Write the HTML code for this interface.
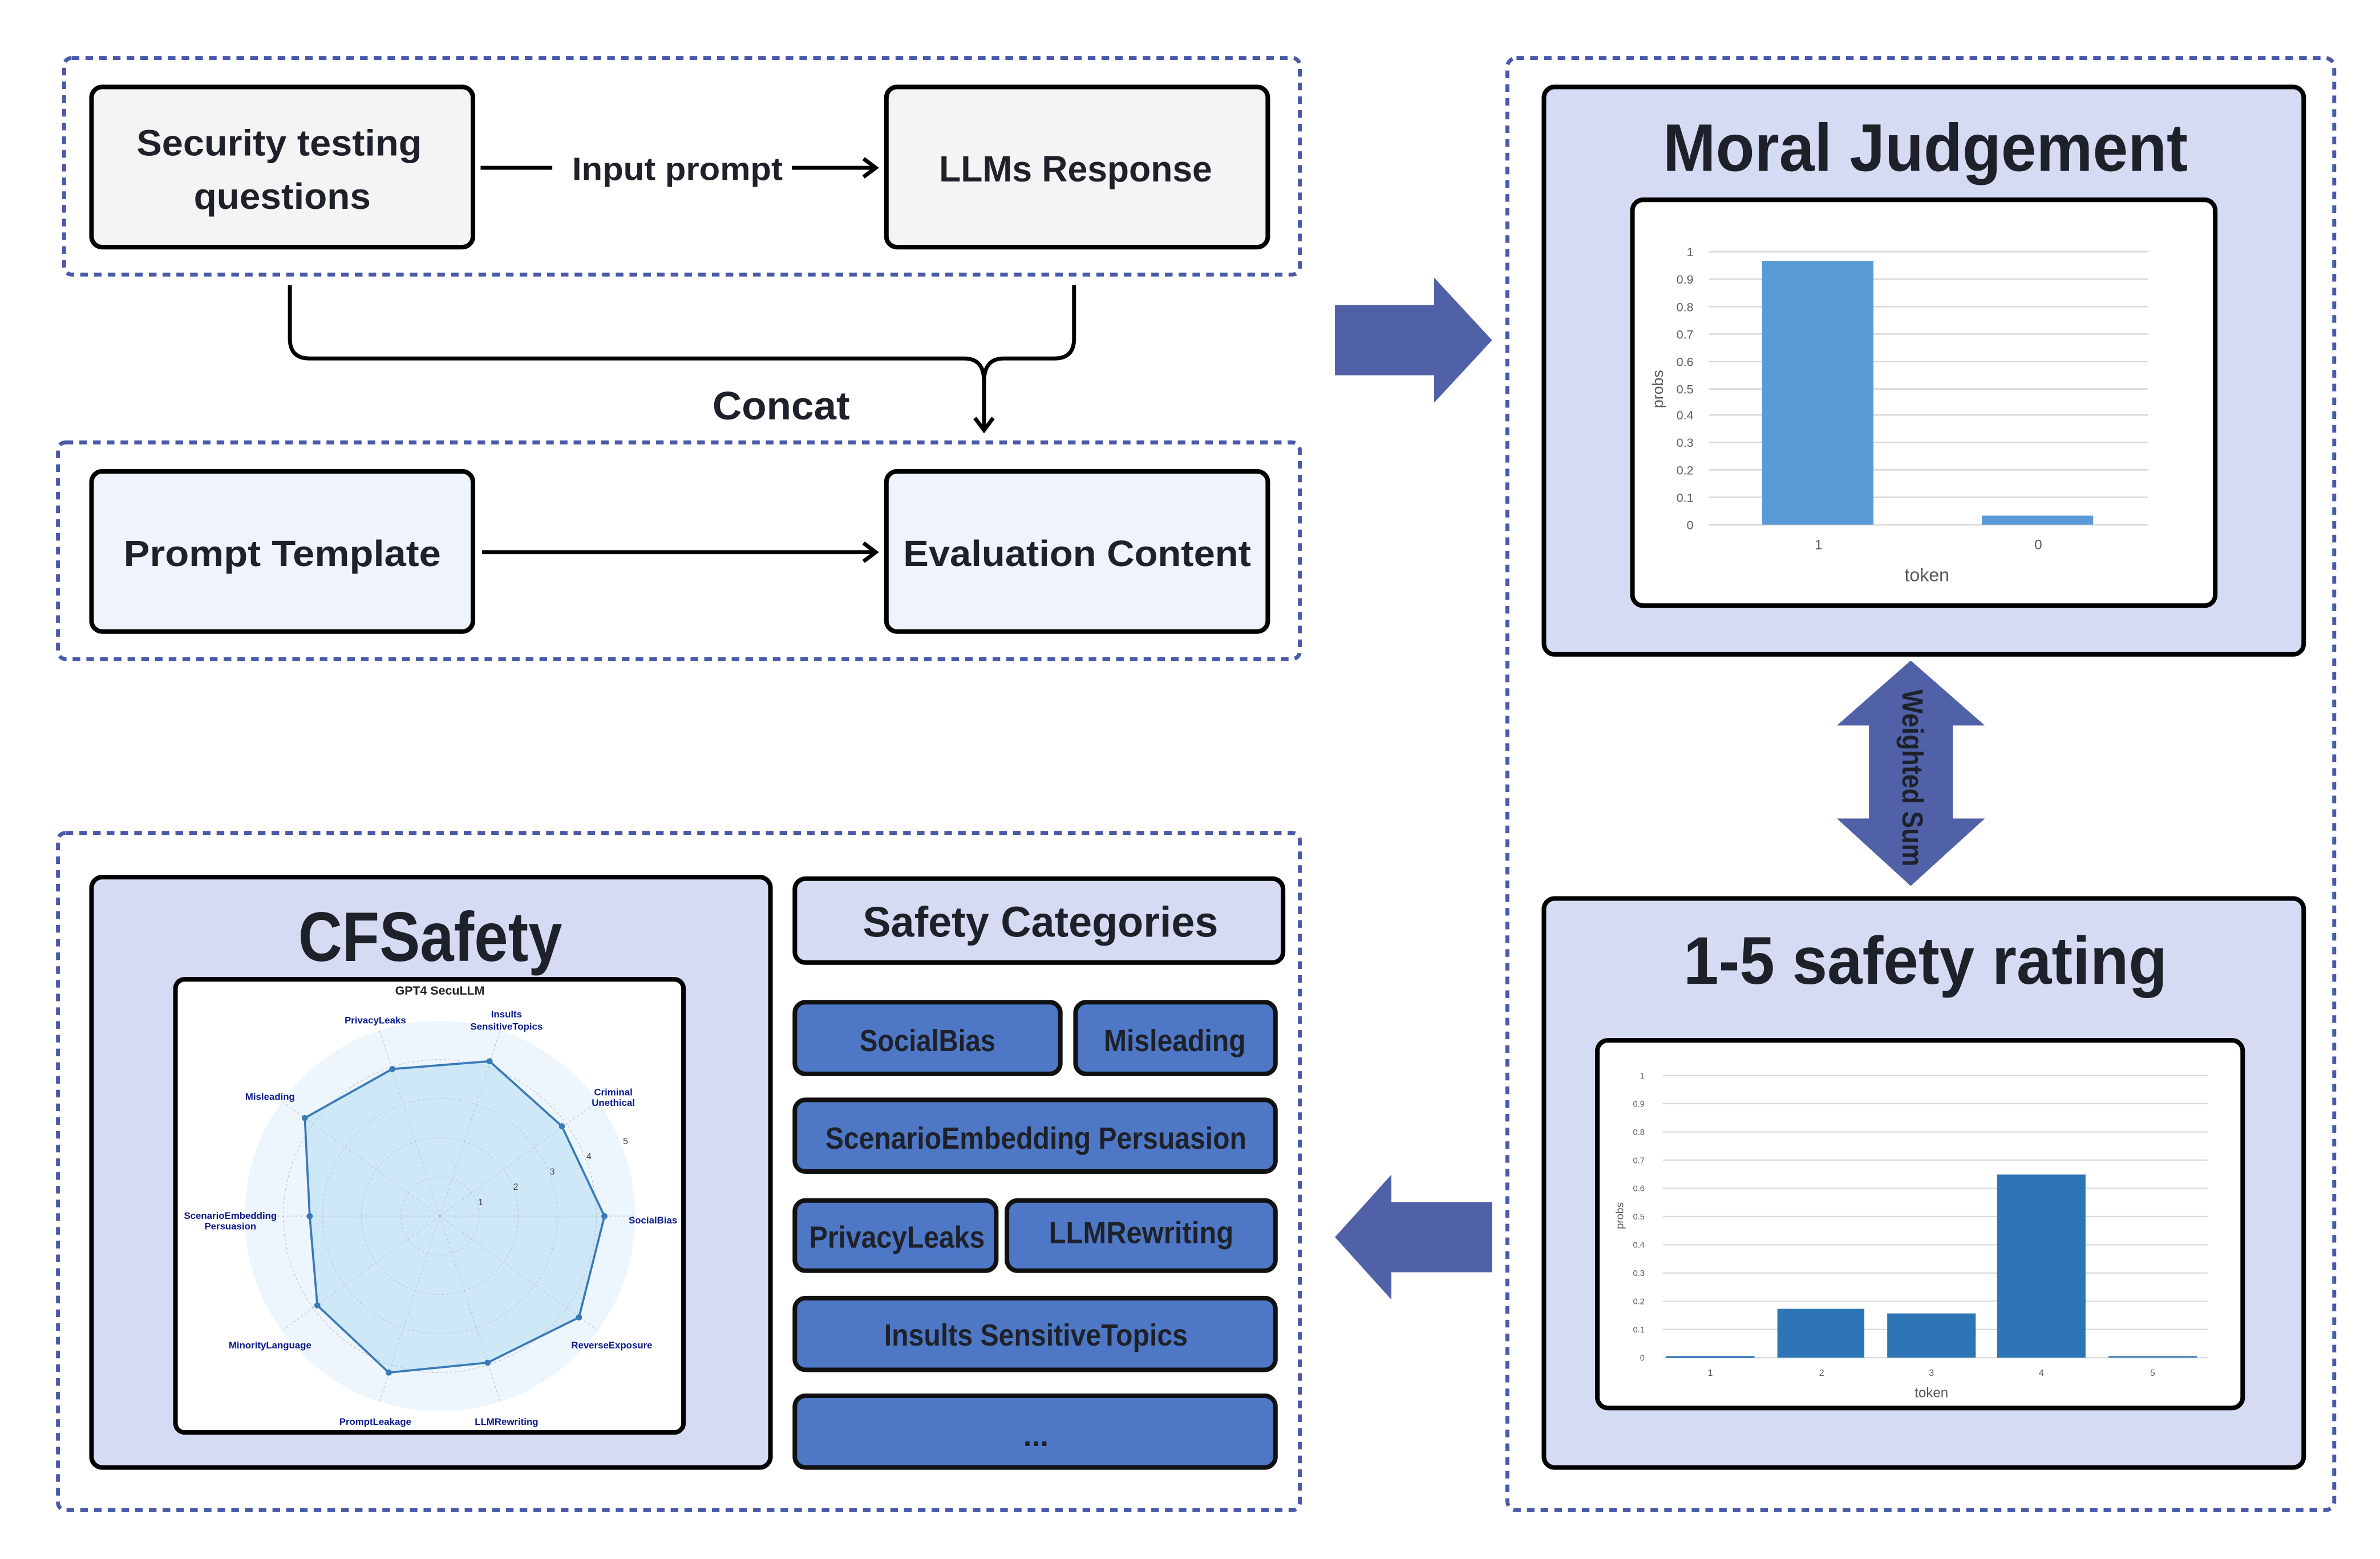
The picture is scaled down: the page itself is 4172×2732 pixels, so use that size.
<!DOCTYPE html>
<html><head><meta charset="utf-8"><style>
html,body{margin:0;padding:0;background:#fff}
svg{display:block}
text{font-family:"Liberation Sans",sans-serif}
</style></head><body>
<svg width="4172" height="2732" viewBox="0 0 1560 1022" preserveAspectRatio="none" xmlns="http://www.w3.org/2000/svg">
<defs>
<marker id="ah" markerWidth="12" markerHeight="14" refX="10" refY="7" orient="auto" markerUnits="userSpaceOnUse">
<path d="M2,1 L10,7 L2,13" fill="none" stroke="#000" stroke-width="2.6"/>
</marker>
</defs>
<rect width="1560" height="1022" fill="#fff"/>
<g fill="none" stroke="#4a5aa8" stroke-width="2.6" stroke-dasharray="5,4">
<rect x="42" y="38" width="810" height="142" rx="5"/>
<rect x="38" y="290" width="814" height="142" rx="5"/>
<rect x="38" y="546" width="814" height="444" rx="5"/>
<rect x="988" y="38" width="542" height="952" rx="6"/>
</g>
<g stroke="#000" stroke-width="3">
<rect x="60" y="57" width="250" height="105" rx="7" fill="#f4f4f4"/>
<rect x="581" y="57" width="250" height="105" rx="7" fill="#f4f4f4"/>
<rect x="60" y="309" width="250" height="105" rx="7" fill="#eef3fc"/>
<rect x="581" y="309" width="250" height="105" rx="7" fill="#eef3fc"/>
</g>
<g fill="#1e2129" font-weight="bold" text-anchor="middle">
<text x="183" y="102" font-size="24" textLength="187" lengthAdjust="spacingAndGlyphs">Security testing</text>
<text x="185" y="137" font-size="24" textLength="116" lengthAdjust="spacingAndGlyphs">questions</text>
<text x="705" y="119" font-size="24" textLength="179" lengthAdjust="spacingAndGlyphs">LLMs Response</text>
<text x="444" y="118" font-size="21" textLength="138" lengthAdjust="spacingAndGlyphs">Input prompt</text>
<text x="512" y="275" font-size="26" textLength="90" lengthAdjust="spacingAndGlyphs">Concat</text>
<text x="185" y="371" font-size="24" textLength="208" lengthAdjust="spacingAndGlyphs">Prompt Template</text>
<text x="706" y="371" font-size="24" textLength="228" lengthAdjust="spacingAndGlyphs">Evaluation Content</text>
</g>
<g stroke="#000" stroke-width="2.6" fill="none">
<line x1="315" y1="110" x2="362" y2="110"/>
<line x1="519" y1="110" x2="574" y2="110" marker-end="url(#ah)"/>
<line x1="316" y1="362" x2="574" y2="362" marker-end="url(#ah)"/>
<path d="M190,187 V222 Q190,235 203,235 H632 Q645,235 645,250 V282" marker-end="url(#ah)"/>
<path d="M704,187 V222 Q704,235 691,235 H658 Q645,235 645,250"/>
</g>
<!-- right arrow -->
<path d="M875,200 H940 V182 L978,223 L940,264 V246 H875 Z" fill="#5161a8"/>
<!-- left arrow -->
<path d="M978,788 H912 V770 L875,811 L912,852 V834 H978 Z" fill="#5161a8"/>
<!-- Moral Judgement -->
<rect x="1012" y="57" width="498" height="372" rx="7" fill="#d6dbf4" stroke="#000" stroke-width="3"/>
<text x="1262" y="112" font-size="44" font-weight="bold" fill="#1e2129" text-anchor="middle" textLength="344" lengthAdjust="spacingAndGlyphs">Moral Judgement</text>
<rect x="1070" y="131" width="382" height="266" rx="7" fill="#fff" stroke="#000" stroke-width="3"/>
<g stroke="#d9d9d9" stroke-width="1">
<line x1="1120" y1="165" x2="1408" y2="165"/><line x1="1120" y1="183" x2="1408" y2="183"/><line x1="1120" y1="201" x2="1408" y2="201"/><line x1="1120" y1="219" x2="1408" y2="219"/><line x1="1120" y1="237" x2="1408" y2="237"/><line x1="1120" y1="255" x2="1408" y2="255"/><line x1="1120" y1="272" x2="1408" y2="272"/><line x1="1120" y1="290" x2="1408" y2="290"/><line x1="1120" y1="308" x2="1408" y2="308"/><line x1="1120" y1="326" x2="1408" y2="326"/><line x1="1120" y1="344" x2="1408" y2="344"/>
</g>
<rect x="1155" y="171" width="73" height="173" fill="#5b9bd5"/>
<rect x="1299" y="338" width="73" height="6" fill="#5b9bd5"/>
<g font-size="8" fill="#595959" text-anchor="end">
<text x="1110" y="168">1</text><text x="1110" y="186">0.9</text><text x="1110" y="204">0.8</text><text x="1110" y="222">0.7</text><text x="1110" y="240">0.6</text><text x="1110" y="258">0.5</text><text x="1110" y="275">0.4</text><text x="1110" y="293">0.3</text><text x="1110" y="311">0.2</text><text x="1110" y="329">0.1</text><text x="1110" y="347">0</text>
</g>
<g font-size="9" fill="#595959" text-anchor="middle">
<text x="1192" y="360">1</text><text x="1336" y="360">0</text>
<text x="1263" y="381" font-size="12">token</text>
<text transform="translate(1090,255) rotate(-90)" font-size="10">probs</text>
</g>
<!-- double arrow -->
<path d="M1252.4,433 L1301,475.6 H1280 V536.6 H1301 L1252.4,580.8 L1204,536.6 H1225 V475.6 H1204 Z" fill="#5161a8"/>
<text transform="translate(1252,510) rotate(90)" font-size="19" font-weight="bold" fill="#1e2129" text-anchor="middle" dominant-baseline="middle" textLength="116" lengthAdjust="spacingAndGlyphs">Weighted Sum</text>
<!-- 1-5 rating -->
<rect x="1012" y="589" width="498" height="373" rx="7" fill="#d6dbf4" stroke="#000" stroke-width="3"/>
<text x="1262" y="645" font-size="44" font-weight="bold" fill="#1e2129" text-anchor="middle" textLength="317" lengthAdjust="spacingAndGlyphs">1-5 safety rating</text>
<rect x="1047" y="682" width="423" height="241" rx="7" fill="#fff" stroke="#000" stroke-width="3"/>
<g stroke="#d9d9d9" stroke-width="0.8">
<line x1="1090" y1="705" x2="1447" y2="705"/><line x1="1090" y1="723.5" x2="1447" y2="723.5"/><line x1="1090" y1="742" x2="1447" y2="742"/><line x1="1090" y1="760.5" x2="1447" y2="760.5"/><line x1="1090" y1="779" x2="1447" y2="779"/><line x1="1090" y1="797.5" x2="1447" y2="797.5"/><line x1="1090" y1="816" x2="1447" y2="816"/><line x1="1090" y1="834.5" x2="1447" y2="834.5"/><line x1="1090" y1="853" x2="1447" y2="853"/><line x1="1090" y1="871.5" x2="1447" y2="871.5"/><line x1="1090" y1="890" x2="1447" y2="890"/>
</g>
<g fill="#2e75b6">
<rect x="1092" y="889" width="58" height="1.2"/>
<rect x="1165" y="858" width="57" height="32"/>
<rect x="1237" y="861" width="58" height="29"/>
<rect x="1309" y="770" width="58" height="120"/>
<rect x="1382" y="889" width="58" height="1"/>
</g>
<g font-size="5.5" fill="#595959" text-anchor="end">
<text x="1078" y="707">1</text><text x="1078" y="725.5">0.9</text><text x="1078" y="744">0.8</text><text x="1078" y="762.5">0.7</text><text x="1078" y="781">0.6</text><text x="1078" y="799.5">0.5</text><text x="1078" y="818">0.4</text><text x="1078" y="836.5">0.3</text><text x="1078" y="855">0.2</text><text x="1078" y="873.5">0.1</text><text x="1078" y="892">0</text>
</g>
<g font-size="6" fill="#595959" text-anchor="middle">
<text x="1121" y="902">1</text><text x="1194" y="902">2</text><text x="1266" y="902">3</text><text x="1338" y="902">4</text><text x="1411" y="902">5</text>
<text x="1266" y="916" font-size="9">token</text>
<text transform="translate(1064,797) rotate(-90)" font-size="7">probs</text>
</g>
<!-- CFSafety -->
<rect x="60" y="575" width="445" height="387" rx="7" fill="#d6dbf4" stroke="#000" stroke-width="3"/>
<text x="282" y="630" font-size="46" font-weight="bold" fill="#1e2129" text-anchor="middle" textLength="173" lengthAdjust="spacingAndGlyphs">CFSafety</text>
<rect x="115" y="642" width="333" height="297" rx="6" fill="#fff" stroke="#000" stroke-width="3"/>
<circle cx="288.3" cy="797.2" r="128" fill="#eef6fd"/>
<g fill="none" stroke="#bbb" stroke-width="0.4" stroke-dasharray="1.5,1.5">
<circle cx="288.3" cy="797.2" r="25.7"/><circle cx="288.3" cy="797.2" r="51.4"/><circle cx="288.3" cy="797.2" r="77"/><circle cx="288.3" cy="797.2" r="102.6"/>
<line x1="288.3" y1="797.2" x2="416.3" y2="797.2"/><line x1="288.3" y1="797.2" x2="391.9" y2="722"/><line x1="288.3" y1="797.2" x2="327.9" y2="675.5"/><line x1="288.3" y1="797.2" x2="248.7" y2="675.5"/><line x1="288.3" y1="797.2" x2="184.7" y2="722"/><line x1="288.3" y1="797.2" x2="160.3" y2="797.2"/><line x1="288.3" y1="797.2" x2="184.7" y2="872.4"/><line x1="288.3" y1="797.2" x2="248.7" y2="918.9"/><line x1="288.3" y1="797.2" x2="327.9" y2="918.9"/><line x1="288.3" y1="797.2" x2="391.9" y2="872.4"/>
</g>
<polygon points="396.2,797.3 368.3,738.3 320.9,695.7 257.1,700.8 199.8,732.9 203,797.3 208,855.7 254.8,899.8 319.6,893.3 379.5,863.6" fill="#a8d6f0" fill-opacity="0.45" stroke="#3a7ab8" stroke-width="1.4"/>
<g fill="#3a7ab8">
<circle cx="396.2" cy="797.3" r="2"/><circle cx="368.3" cy="738.3" r="2"/><circle cx="320.9" cy="695.7" r="2"/><circle cx="257.1" cy="700.8" r="2"/><circle cx="199.8" cy="732.9" r="2"/><circle cx="203" cy="797.3" r="2"/><circle cx="208" cy="855.7" r="2"/><circle cx="254.8" cy="899.8" r="2"/><circle cx="319.6" cy="893.3" r="2"/><circle cx="379.5" cy="863.6" r="2"/>
</g>
<text x="288.3" y="652" font-size="8" font-weight="bold" fill="#222" text-anchor="middle">GPT4 SecuLLM</text>
<g font-size="6.3" font-weight="bold" fill="#0a1a8a" text-anchor="middle">
<text x="246" y="671">PrivacyLeaks</text>
<text x="332" y="667">Insults</text><text x="332" y="675">SensitiveTopics</text>
<text x="402" y="718">Criminal</text><text x="402" y="725">Unethical</text>
<text x="428" y="802">SocialBias</text>
<text x="177" y="721">Misleading</text>
<text x="151" y="799">ScenarioEmbedding</text><text x="151" y="806">Persuasion</text>
<text x="177" y="884">MinorityLanguage</text>
<text x="246" y="934">PromptLeakage</text>
<text x="332" y="934">LLMRewriting</text>
<text x="401" y="884">ReverseExposure</text>
</g>
<g font-size="6" fill="#444" text-anchor="middle">
<text x="315" y="790">1</text><text x="338" y="780">2</text><text x="362" y="770">3</text><text x="386" y="760">4</text><text x="410" y="750">5</text>
</g>
<!-- Safety categories -->
<rect x="521" y="576" width="320" height="55" rx="7" fill="#d6dbf4" stroke="#000" stroke-width="3"/>
<text x="682" y="614" font-size="28" font-weight="bold" fill="#1e2129" text-anchor="middle" textLength="233" lengthAdjust="spacingAndGlyphs">Safety Categories</text>
<g fill="#4e78c6" stroke="#111" stroke-width="3">
<rect x="521" y="657" width="174" height="47" rx="7"/>
<rect x="705" y="657" width="131" height="47" rx="7"/>
<rect x="521" y="721" width="315" height="47" rx="7"/>
<rect x="521" y="787" width="132" height="46" rx="7"/>
<rect x="660" y="787" width="176" height="46" rx="7"/>
<rect x="521" y="851" width="315" height="47" rx="7"/>
<rect x="521" y="915" width="315" height="47" rx="7"/>
</g>
<g font-size="20" font-weight="bold" fill="#1e2129" text-anchor="middle">
<text x="608" y="689" textLength="89" lengthAdjust="spacingAndGlyphs">SocialBias</text>
<text x="770" y="689" textLength="93" lengthAdjust="spacingAndGlyphs">Misleading</text>
<text x="679" y="753" textLength="276" lengthAdjust="spacingAndGlyphs">ScenarioEmbedding Persuasion</text>
<text x="588" y="818" textLength="115" lengthAdjust="spacingAndGlyphs">PrivacyLeaks</text>
<text x="748" y="815" textLength="121" lengthAdjust="spacingAndGlyphs">LLMRewriting</text>
<text x="679" y="882" textLength="199" lengthAdjust="spacingAndGlyphs">Insults SensitiveTopics</text>
<text x="679" y="948">...</text>
</g>
</svg>
</body></html>
